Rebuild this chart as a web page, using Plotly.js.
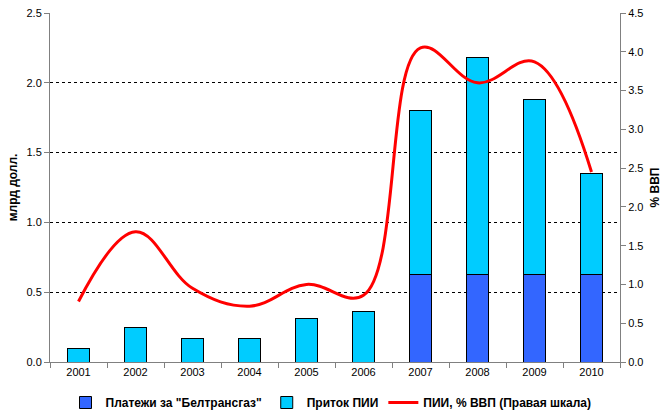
<!DOCTYPE html>
<html>
<head>
<meta charset="utf-8">
<script src="https://cdn.plot.ly/plotly-3.0.1.min.js"></script>
<style>
  html, body { margin: 0; padding: 0; background: #fff; }
  #chart { width: 662px; height: 417px; }
</style>
</head>
<body>
<div id="chart"></div>
<script>
// Years on the category axis
const years = ['2001', '2002', '2003', '2004', '2005', '2006', '2007', '2008', '2009', '2010'];

// Payments for "Beltransgaz", bn USD
const beltransgaz = [0, 0, 0, 0, 0, 0, 0.625, 0.625, 0.625, 0.625];

// Remaining FDI inflow, bn USD (stacked on top of the payments)
const fdiInflow = [0.10, 0.25, 0.17, 0.165, 0.31, 0.36, 1.18, 1.555, 1.255, 0.725];

// FDI as % of GDP (right axis)
const fdiGdp = [0.78, 1.68, 0.95, 0.72, 1.0, 0.86, 4.05, 3.6, 3.87, 2.45];

const leftTicks = [0, 0.5, 1.0, 1.5, 2.0, 2.5];
const rightTicks = [0, 0.5, 1.0, 1.5, 2.0, 2.5, 3.0, 3.5, 4.0, 4.5];

const FAMILY = 'Liberation Sans, Arial, sans-serif';
const font = { family: FAMILY, size: 11, color: '#000' };
const boldFont = { family: FAMILY, size: 12, color: '#000', weight: 'bold' };

const traces = [
  {
    type: 'bar', name: 'Платежи за "Белтрансгаз"',
    x: years, y: beltransgaz,
    marker: { color: '#3366FF', line: { color: '#000', width: 1 } },
    hoverinfo: 'skip'
  },
  {
    type: 'bar', name: 'Приток ПИИ',
    x: years, y: fdiInflow,
    marker: { color: '#00CCFF', line: { color: '#000', width: 1 } },
    hoverinfo: 'skip'
  },
  {
    type: 'scatter', mode: 'lines', name: 'ПИИ, % ВВП (Правая шкала)',
    x: years, y: fdiGdp, yaxis: 'y2',
    line: { color: '#FF0000', width: 3, shape: 'spline', smoothing: 1.1 },
    hoverinfo: 'skip'
  }
];

const layout = {
  width: 662, height: 417,
  margin: { l: 50, r: 42, t: 13, b: 55 },
  paper_bgcolor: '#fff', plot_bgcolor: '#fff',
  font: font,
  barmode: 'stack',
  bargap: 0.6,
  showlegend: true,
  legend: {
    orientation: 'h',
    xref: 'container', yref: 'container',
    x: 0.5, xanchor: 'center', y: 0.0, yanchor: 'bottom',
    font: boldFont,
    traceorder: 'normal', itemwidth: 30, tracegroupgap: 0,
    bgcolor: 'rgba(0,0,0,0)'
  },
  xaxis: {
    type: 'category',
    showline: true, linecolor: '#808080', linewidth: 1,
    ticks: 'outside', tickson: 'boundaries', ticklen: 5, tickcolor: '#808080',
    showgrid: false, zeroline: false,
    tickfont: font
  },
  yaxis: {
    range: [0, 2.5], tickvals: leftTicks, ticktext: leftTicks.map(v => v.toFixed(1)),
    showline: true, linecolor: '#808080', linewidth: 1,
    ticks: 'outside', ticklen: 5, tickcolor: '#808080',
    showgrid: true, gridcolor: '#000', griddash: '3px,3px', gridwidth: 1,
    zeroline: false,
    tickfont: font,
    title: { text: 'млрд долл.', font: boldFont, standoff: 6 }
  },
  yaxis2: {
    overlaying: 'y', side: 'right',
    range: [0, 4.5], tickvals: rightTicks, ticktext: rightTicks.map(v => v.toFixed(1)),
    showline: true, linecolor: '#808080', linewidth: 1,
    ticks: 'outside', ticklen: 5, tickcolor: '#808080',
    showgrid: false, zeroline: false,
    tickfont: font,
    title: { text: '% ВВП', font: boldFont, standoff: 8 }
  }
};

Plotly.newPlot('chart', traces, layout, { staticPlot: true, displayModeBar: false });
</script>
</body>
</html>
